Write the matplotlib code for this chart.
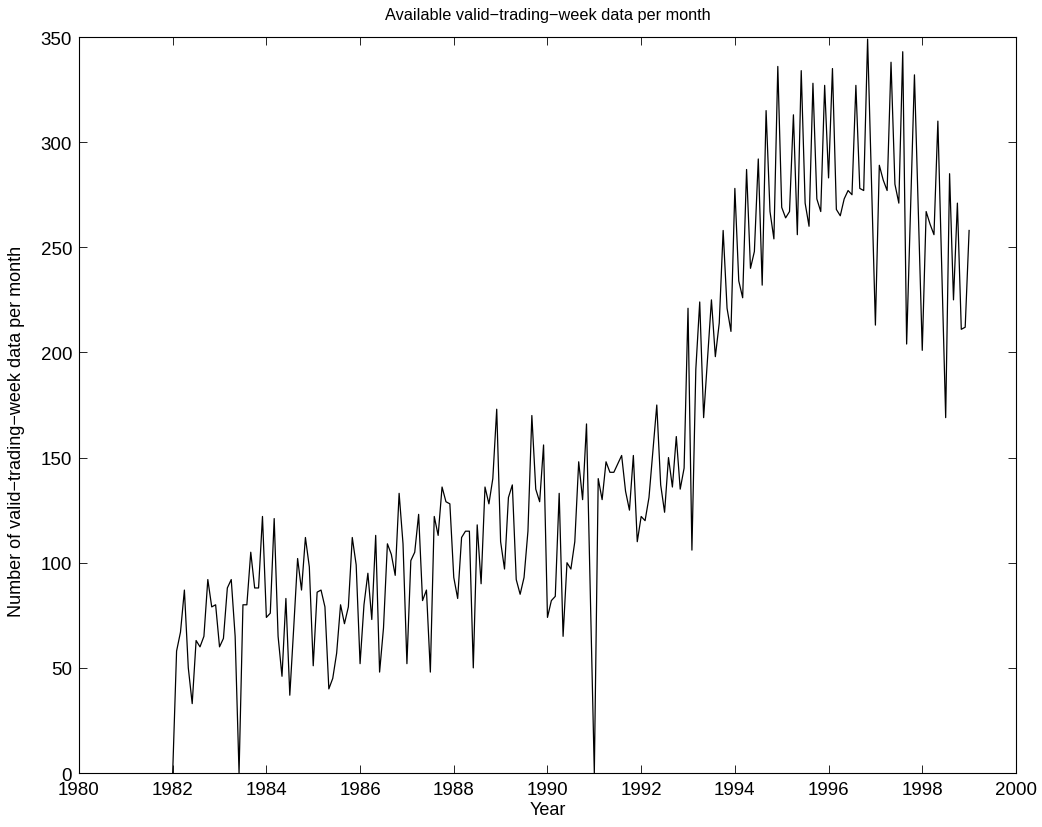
import numpy as np
import matplotlib
matplotlib.use('Agg')
import matplotlib.pyplot as plt

# monthly counts of valid trading weeks, Jan 1982 .. Jan 1999
counts_1982 = [0, 58, 67, 87, 50, 33, 63, 60, 65, 92, 79, 80]
counts_1983 = [60, 64, 88, 92, 65, 0, 80, 80, 105, 88, 88, 122]
counts_1984 = [74, 76, 121, 65, 46, 83, 37, 69, 102, 87, 112, 98]
counts_1985 = [51, 86, 87, 79, 40, 45, 57, 80, 71, 79, 112, 99]
counts_1986 = [52, 80, 95, 73, 113, 48, 69, 109, 104, 94, 133, 109]
counts_1987 = [52, 101, 105, 123, 82, 87, 48, 122, 113, 136, 129, 128]
counts_1988 = [93, 83, 112, 115, 115, 50, 118, 90, 136, 128, 140, 173]
counts_1989 = [110, 97, 131, 137, 92, 85, 93, 115, 170, 135, 129, 156]
counts_1990 = [74, 82, 84, 133, 65, 100, 97, 110, 148, 130, 166, 83]
counts_1991 = [0, 140, 130, 148, 143, 143, 147, 151, 134, 125, 151, 110]
counts_1992 = [122, 120, 131, 153, 175, 137, 124, 150, 136, 160, 135, 145]
counts_1993 = [221, 106, 192, 224, 169, 197, 225, 198, 214, 258, 221, 210]
counts_1994 = [278, 234, 226, 287, 240, 248, 292, 232, 315, 267, 254, 336]
counts_1995 = [269, 264, 267, 313, 256, 334, 271, 260, 328, 273, 267, 327]
counts_1996 = [283, 335, 268, 265, 273, 277, 275, 327, 278, 277, 349, 281]
counts_1997 = [213, 289, 282, 277, 338, 280, 271, 343, 204, 268, 332, 266]
counts_1998 = [201, 267, 261, 256, 310, 239, 169, 285, 225, 271, 211, 212]
counts_1999 = [258]

xticks = list(range(1980, 2001, 2))
yticks = list(range(0, 351, 50))

counts = np.array(
    counts_1982 + counts_1983 + counts_1984 + counts_1985 + counts_1986
    + counts_1987 + counts_1988 + counts_1989 + counts_1990 + counts_1991
    + counts_1992 + counts_1993 + counts_1994 + counts_1995 + counts_1996
    + counts_1997 + counts_1998 + counts_1999, dtype=float
)
years = 1982 + np.arange(len(counts)) / 12.0

plt.rcParams['font.family'] = ['Liberation Sans', 'DejaVu Sans']

fig = plt.figure(figsize=(10.42, 8.28), dpi=100)
ax = fig.add_axes([0.0758, 0.0652, 0.8992, 0.8889])

ax.plot(years, counts, color='k', linewidth=0.9)

ax.set_xlim(1980, 2000)
ax.set_ylim(0, 350)
ax.set_xticks(xticks)
ax.set_yticks(yticks)
ax.tick_params(direction='in', length=6, width=0.6, top=True, right=True,
               labelsize=13.5)
ax.tick_params(axis='x', pad=6)
ax.tick_params(axis='y', pad=5)
for spine in ax.spines.values():
    spine.set_linewidth(0.8)

ax.set_title('Available valid\u2212trading\u2212week data per month',
             fontsize=11.7, pad=13)
ax.set_xlabel('Year', fontsize=13, labelpad=2)
ax.set_ylabel('Number of valid\u2212trading\u2212week data per month',
              fontsize=13)
ax.yaxis.set_label_coords(-0.058, 0.466)

fig.savefig('out.png', dpi=100)
